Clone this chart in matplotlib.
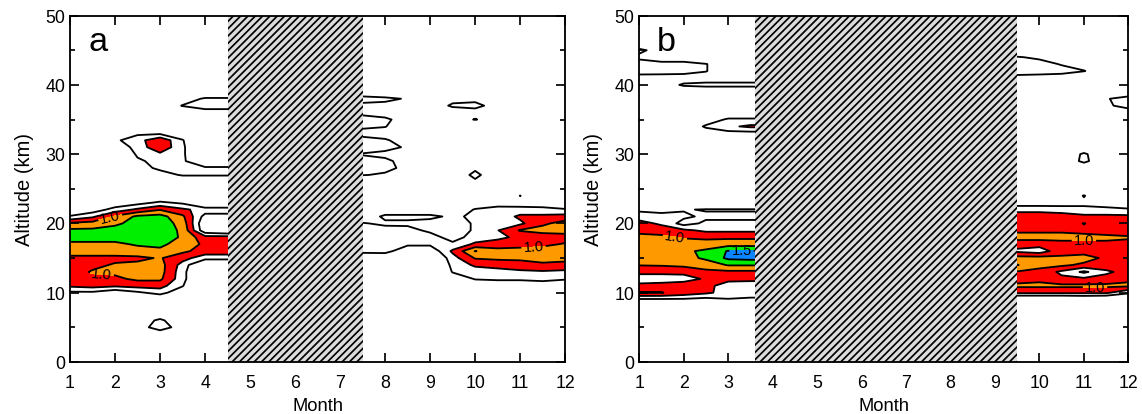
import numpy as np
import matplotlib
matplotlib.use("Agg")
import matplotlib.pyplot as plt
from matplotlib.patches import Rectangle

plt.rcParams['font.family'] = ['Liberation Sans', 'DejaVu Sans']
plt.rcParams['hatch.linewidth'] = 1.4
plt.rcParams['hatch.color'] = 'black'

# ---------------- data ----------------
ALTITUDES = np.arange(0, 51)  # km, 1 km grid
MONTHS_A = [1, 1.5, 2, 2.5, 3, 3.5, 4, 4.5, 7.5, 8, 8.5, 9, 9.5, 10, 10.5, 11, 11.5, 12]
MONTHS_B = [1, 1.5, 2, 2.5, 3, 3.5, 4, 9.5, 10, 10.5, 11, 11.5, 12]
GAP_A = (4.5, 7.5)   # months without data (hatched)
GAP_B = (3.6, 9.5)
LEVELS = [0.5, 0.75, 1.0, 1.25, 1.5, 5.0]
FILL_COLORS = ['white', '#ff0000', '#ff9900', '#00ee00', '#0a84ff']
X_TICKS = list(range(1, 13))
Y_TICKS = list(range(0, 51, 10))

# panel a: altitude (km) -> values at MONTHS_A (rows not listed are 0)
ROWS_A = {
    4:  [0, 0, 0, 0.2, 0.3, 0.2, 0, 0, 0, 0, 0, 0, 0, 0, 0, 0, 0, 0],
    5:  [0, 0, 0.2, 0.35, 0.65, 0.35, 0, 0, 0, 0, 0, 0, 0, 0, 0, 0, 0, 0],
    6:  [0, 0, 0.2, 0.35, 0.55, 0.3, 0, 0, 0, 0, 0, 0, 0, 0, 0, 0, 0, 0],
    7:  [0, 0, 0, 0.2, 0.3, 0.2, 0, 0, 0, 0, 0, 0, 0, 0, 0, 0, 0, 0],
    9:  [0.2, 0.2, 0.1, 0.1, 0.2, 0.1, 0, 0, 0, 0, 0, 0, 0, 0, 0, 0, 0, 0],
    10: [0.45, 0.45, 0.3, 0.45, 0.6, 0.3, 0, 0, 0, 0, 0, 0, 0, 0, 0, 0, 0, 0],
    11: [0.8, 0.85, 0.8, 0.85, 0.85, 0.52, 0, 0, 0, 0, 0, 0, 0.1, 0.3, 0.3, 0.3, 0.3, 0.35],
    12: [0.95, 0.95, 0.95, 1.05, 1.05, 0.6, 0, 0, 0, 0, 0, 0, 0.3, 0.52, 0.55, 0.55, 0.6, 0.52],
    13: [0.9, 1.02, 1.05, 1.1, 1.1, 0.6, 0, 0, 0, 0, 0, 0, 0.52, 0.6, 0.65, 0.7, 0.72, 0.7],
    14: [0.85, 0.95, 1.02, 1.05, 1.1, 0.65, 0.1, 0.1, 0, 0, 0, 0.2, 0.55, 0.8, 0.85, 0.9, 0.95, 0.9],
    15: [0.95, 0.95, 0.95, 0.95, 1.02, 0.85, 0.6, 0.6, 0.2, 0.25, 0.1, 0.1, 0.65, 1.02, 1.05, 1.05, 1.1, 1.1],
    16: [1.1, 1.1, 1.1, 1.15, 1.2, 1.05, 0.9, 0.9, 0.6, 0.6, 0.3, 0.3, 0.8, 1.26, 1.1, 1.1, 1.1, 1.15],
    17: [1.2, 1.2, 1.2, 1.28, 1.3, 1.15, 0.95, 0.95, 0.6, 0.65, 0.55, 0.55, 0.55, 0.8, 0.85, 0.9, 0.95, 1.02],
    18: [1.35, 1.35, 1.35, 1.4, 1.45, 1.2, 0.85, 0.85, 0.6, 0.6, 0.6, 0.6, 0.4, 0.6, 0.7, 0.8, 0.85, 0.9],
    19: [1.3, 1.3, 1.35, 1.4, 1.4, 1.2, 0.3, 0.2, 0.6, 0.6, 0.58, 0.45, 0.3, 0.55, 0.74, 1.02, 1.1, 1.1],
    20: [1.05, 1.1, 1.2, 1.35, 1.4, 1.15, 0.25, 0.2, 0.52, 0.45, 0.45, 0.4, 0.3, 0.55, 0.7, 0.7, 0.95, 1.1],
    21: [0.52, 0.7, 1.05, 1.3, 1.35, 1.05, 0.4, 0.4, 0.3, 0.56, 0.56, 0.56, 0.45, 0.55, 0.6, 0.8, 0.8, 0.85],
    22: [0.3, 0.35, 0.6, 0.8, 0.98, 0.8, 0.65, 0.65, 0.1, 0.3, 0.3, 0.3, 0.3, 0.52, 0.65, 0.6, 0.6, 0.52],
    23: [0.1, 0.1, 0.3, 0.4, 0.55, 0.45, 0.1, 0.1, 0, 0, 0, 0, 0, 0.3, 0.3, 0.35, 0.3, 0.3],
    24: [0, 0, 0, 0, 0.2, 0.1, 0, 0, 0, 0, 0, 0, 0, 0, 0, 0.51, 0, 0],
    26: [0, 0, 0, 0, 0, 0, 0, 0, 0, 0, 0, 0, 0, 0.45, 0, 0, 0, 0],
    27: [0, 0, 0, 0, 0.3, 0.55, 0.55, 0.55, 0.52, 0.45, 0, 0, 0.3, 0.57, 0.3, 0, 0, 0],
    28: [0, 0, 0, 0.3, 0.6, 0.6, 0.55, 0.55, 0.6, 0.6, 0.4, 0, 0, 0.45, 0, 0, 0, 0],
    29: [0, 0, 0, 0.45, 0.6, 0.55, 0.2, 0.2, 0.6, 0.58, 0.35, 0, 0, 0, 0, 0, 0, 0],
    30: [0, 0, 0.1, 0.55, 0.7, 0.55, 0.1, 0.1, 0.48, 0.4, 0, 0, 0, 0, 0, 0, 0, 0],
    31: [0, 0, 0.3, 0.6, 0.95, 0.55, 0.1, 0, 0.65, 0.62, 0.45, 0, 0, 0, 0, 0, 0, 0],
    32: [0, 0, 0.45, 0.65, 0.95, 0.52, 0.1, 0, 0.6, 0.55, 0.3, 0, 0, 0, 0, 0, 0, 0],
    33: [0, 0, 0, 0.45, 0.45, 0.3, 0, 0, 0.4, 0.3, 0, 0, 0, 0, 0, 0, 0, 0],
    34: [0, 0, 0, 0, 0, 0, 0, 0, 0.55, 0.52, 0.2, 0, 0, 0, 0, 0, 0, 0],
    35: [0, 0, 0, 0, 0, 0, 0, 0, 0.65, 0.58, 0.3, 0, 0.3, 0.52, 0.3, 0, 0, 0],
    36: [0, 0, 0, 0, 0, 0.2, 0.3, 0.3, 0.4, 0.3, 0, 0, 0.3, 0.35, 0.3, 0, 0, 0],
    37: [0, 0, 0, 0, 0.2, 0.52, 0.7, 0.7, 0.4, 0.35, 0, 0.3, 0.55, 0.6, 0.35, 0, 0, 0],
    38: [0, 0, 0, 0, 0, 0.3, 0.55, 0.55, 0.65, 0.62, 0.45, 0.2, 0.4, 0.4, 0, 0, 0, 0],
    39: [0, 0, 0, 0, 0, 0, 0.1, 0.1, 0.2, 0, 0, 0, 0, 0, 0, 0, 0, 0],
}

# panel b: altitude (km) -> values at MONTHS_B
ROWS_B = {
    8:  [0.1, 0.1, 0.1, 0.1, 0.1, 0.1, 0.1, 0, 0, 0, 0, 0, 0],
    9:  [0.45, 0.45, 0.45, 0.4, 0.48, 0.48, 0.48, 0.1, 0.1, 0.1, 0.15, 0.1, 0.1],
    10: [1.02, 1.01, 0.9, 0.8, 0.65, 0.55, 0.55, 0.8, 0.8, 0.8, 0.8, 0.8, 0.55],
    11: [0.85, 0.9, 0.95, 0.85, 0.6, 0.55, 0.55, 1.05, 1.05, 1.05, 1.05, 1.05, 1.05],
    12: [0.55, 0.55, 0.6, 0.8, 0.85, 0.85, 0.85, 0.9, 0.95, 0.8, 0.8, 0.85, 0.95],
    13: [0.85, 0.85, 0.85, 0.95, 0.95, 0.95, 0.95, 0.98, 0.9, 0.7, 0.45, 0.7, 0.85],
    14: [1.01, 1.02, 1.05, 1.1, 1.27, 1.27, 1.27, 1.26, 1.1, 1.05, 0.95, 0.9, 0.9],
    15: [1.15, 1.15, 1.15, 1.3, 1.55, 1.58, 1.58, 1.1, 1.1, 1.05, 1.1, 0.95, 0.9],
    16: [1.2, 1.2, 1.2, 1.3, 1.52, 1.52, 1.52, 0.7, 0.62, 0.9, 0.9, 0.85, 0.9],
    17: [1.15, 1.15, 1.1, 1.1, 1.15, 1.15, 1.15, 0.85, 0.85, 0.9, 0.95, 0.95, 0.95],
    18: [1.05, 1.05, 0.98, 0.95, 0.95, 0.95, 0.95, 1.1, 1.1, 1.1, 1.05, 1.05, 1.02],
    19: [0.95, 0.9, 0.8, 0.7, 0.7, 0.7, 0.7, 0.95, 0.95, 0.95, 0.95, 0.9, 0.9],
    20: [0.85, 0.7, 0.4, 0.55, 0.55, 0.55, 0.55, 0.85, 0.85, 0.85, 1.01, 0.85, 0.85],
    21: [0.62, 0.55, 0.55, 0.45, 0.45, 0.45, 0.45, 0.8, 0.8, 0.8, 0.8, 0.8, 0.8],
    22: [0.45, 0.45, 0.48, 0.52, 0.52, 0.52, 0.52, 0.72, 0.72, 0.7, 0.6, 0.6, 0.55],
    23: [0.2, 0.2, 0.2, 0.1, 0.1, 0.1, 0.1, 0.3, 0.3, 0.3, 0.4, 0.3, 0.2],
    24: [0, 0, 0, 0, 0, 0, 0, 0, 0, 0, 0.53, 0, 0],
    28: [0, 0, 0, 0, 0, 0, 0, 0, 0, 0, 0.3, 0, 0],
    29: [0, 0, 0, 0, 0, 0, 0, 0, 0, 0.3, 0.56, 0.3, 0],
    30: [0, 0, 0, 0, 0, 0, 0, 0, 0, 0.3, 0.54, 0.3, 0],
    31: [0, 0, 0, 0, 0, 0, 0, 0, 0, 0, 0.3, 0, 0],
    33: [0, 0, 0, 0.3, 0.4, 0.4, 0.4, 0, 0, 0, 0, 0, 0],
    34: [0, 0, 0.2, 0.55, 0.7, 0.8, 0.8, 0, 0, 0, 0, 0, 0],
    35: [0, 0, 0, 0.3, 0.55, 0.55, 0.55, 0, 0, 0, 0, 0, 0],
    36: [0, 0, 0, 0, 0.2, 0.2, 0.2, 0, 0, 0, 0, 0, 0.35],
    37: [0, 0, 0, 0, 0, 0, 0, 0, 0, 0, 0, 0.45, 0.6],
    38: [0, 0, 0, 0, 0, 0, 0, 0, 0, 0, 0, 0.48, 0.6],
    39: [0, 0, 0.2, 0.2, 0.2, 0.2, 0.2, 0, 0, 0, 0, 0, 0.3],
    40: [0, 0.3, 0.55, 0.6, 0.6, 0.6, 0.6, 0, 0, 0, 0, 0, 0],
    41: [0.3, 0.3, 0.3, 0.3, 0.3, 0.3, 0.3, 0.35, 0.35, 0.35, 0, 0, 0],
    42: [0.7, 0.68, 0.65, 0.52, 0.2, 0, 0, 0.7, 0.65, 0.6, 0.52, 0.2, 0],
    43: [0.6, 0.6, 0.6, 0.52, 0.2, 0, 0, 0.65, 0.6, 0.48, 0.3, 0, 0],
    44: [0.45, 0.3, 0.3, 0, 0, 0, 0, 0.52, 0.45, 0, 0, 0, 0],
    45: [0.55, 0.4, 0, 0, 0, 0, 0, 0.2, 0, 0, 0, 0, 0],
    46: [0.3, 0, 0, 0, 0, 0, 0, 0, 0, 0, 0, 0, 0],
}

LABELS10_A = [(1.9, 20.7), (1.7, 12.3), (11.3, 16.3)]
LABELS15_A = []
LABELS10_B = [(1.8, 17.9), (11.0, 17.7), (11.25, 10.8)]
LABELS15_B = [(3.3, 15.9)]


def draw(ax, months, rows, gap, lab10, lab15, letter):
    z = np.zeros((len(ALTITUDES), len(months)))
    for alt, vals in rows.items():
        z[alt] = vals
    lw = 1.5
    ax.contourf(months, ALTITUDES, z, levels=LEVELS, colors=FILL_COLORS, zorder=1)
    ax.contour(months, ALTITUDES, z, levels=[0.5, 0.75, 1.25], colors='black',
               linewidths=lw, zorder=2)
    c10 = ax.contour(months, ALTITUDES, z, levels=[1.0], colors='black',
                     linewidths=lw, zorder=2)
    if lab10:
        ax.clabel(c10, manual=lab10, fmt='%.1f', fontsize=12, inline=True,
                  inline_spacing=2, colors='black')
    c15 = ax.contour(months, ALTITUDES, z, levels=[1.5], colors='black',
                     linewidths=lw, zorder=2)
    if lab15:
        ax.clabel(c15, manual=lab15, fmt='%.1f', fontsize=12, inline=True,
                  inline_spacing=2, colors='black')
    ax.add_patch(Rectangle((gap[0], 0), gap[1] - gap[0], 50, facecolor='#dcdcdc',
                           edgecolor='black', hatch='////', linewidth=0, zorder=5))
    ax.set_xlim(1, 12)
    ax.set_ylim(0, 50)
    ax.set_xticks(X_TICKS)
    ax.set_yticks(Y_TICKS)
    ax.set_yticks(list(range(5, 50, 10)), minor=True)
    ax.tick_params(which='both', direction='in', top=True, right=True, width=1.4,
                   labelsize=14.5)
    ax.tick_params(which='major', length=7)
    ax.tick_params(which='minor', length=4)
    ax.tick_params(axis='x', pad=10)
    ax.tick_params(axis='y', pad=4)
    for s in ax.spines.values():
        s.set_linewidth(1.5)
        s.set_zorder(6)
    ax.set_xlabel('Month', fontsize=15, labelpad=5)
    ax.set_ylabel('Altitude (km)', fontsize=16.5, labelpad=9)
    ax.text(0.037, 0.9, letter, transform=ax.transAxes, fontsize=28,
            va='baseline', ha='left', zorder=7)


fig = plt.figure(figsize=(1142.4 / 88, 414.4 / 88), dpi=88)
ax_a = fig.add_axes([70 / 1142, 52 / 414, 495 / 1142, 346 / 414])
ax_b = fig.add_axes([639 / 1142, 52 / 414, 489 / 1142, 346 / 414])
draw(ax_a, MONTHS_A, ROWS_A, GAP_A, LABELS10_A, LABELS15_A, 'a')
draw(ax_b, MONTHS_B, ROWS_B, GAP_B, LABELS10_B, LABELS15_B, 'b')
fig.savefig('out.png', dpi=88)
